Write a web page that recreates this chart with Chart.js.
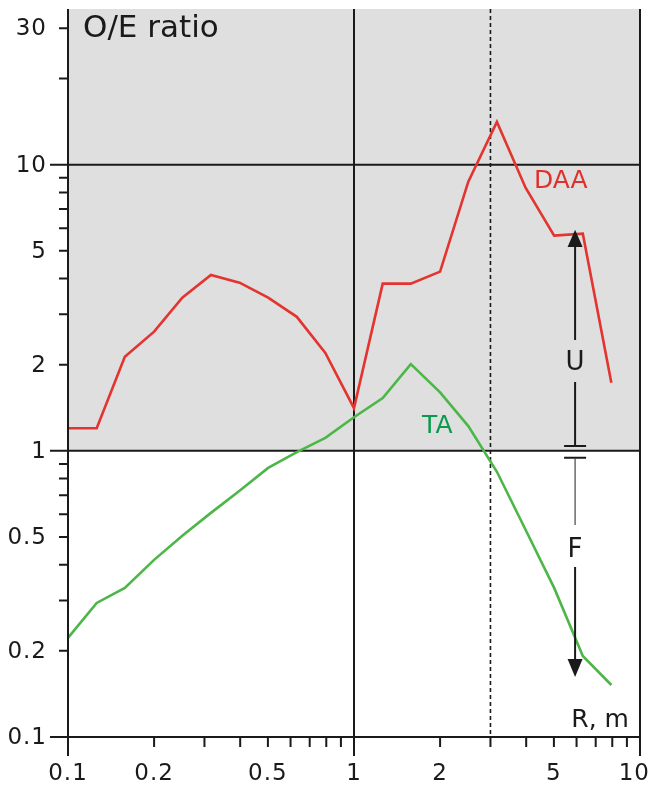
<!DOCTYPE html>
<html>
<head>
<meta charset="utf-8">
<script src="https://cdn.jsdelivr.net/npm/chart.js@4/dist/chart.umd.min.js"></script>
<style>
  html, body { margin: 0; padding: 0; background: #fff; }
  canvas { display: block; }
</style>
</head>
<body>
<canvas id="chart" width="652" height="787"></canvas>
<script>
// Distance R (m), log-spaced bins
const distances = [0.1, 0.126, 0.158, 0.2, 0.251, 0.316, 0.398, 0.501, 0.631, 0.794,
                   1, 1.26, 1.58, 2, 2.51, 3.16, 3.98, 5.01, 6.31, 7.94];
// Observed / expected ratios
const daaRatio = [1.20, 1.20, 2.13, 2.61, 3.43, 4.12, 3.87, 3.43, 2.94, 2.20,
                  1.41, 3.84, 3.84, 4.23, 8.72, 14.1, 8.31, 5.65, 5.74, 1.73];
const taRatio  = [0.222, 0.294, 0.332, 0.416, 0.505, 0.607, 0.725, 0.872, 0.99, 1.11,
                  1.31, 1.53, 2.01, 1.60, 1.22, 0.845, 0.530, 0.332, 0.192, 0.152];

// Axis ticks
const xLabelTicks = [0.1, 0.2, 0.5, 1, 2, 5, 10];
const xMinorTicks = [0.2, 0.3, 0.4, 0.5, 0.6, 0.7, 0.8, 0.9, 2, 3, 4, 5, 6, 7, 8, 9];
const yLabelTicks = [0.1, 0.2, 0.5, 1, 2, 5, 10, 30];
const yMinorTicks = [0.2, 0.3, 0.4, 0.5, 0.6, 0.7, 0.8, 0.9, 2, 3, 4, 5, 6, 7, 8, 9, 20, 30];
const decadeTicks = [0.1, 1, 10];

const FONT = '"DejaVu Sans", Verdana, sans-serif';
const INK = '#1a1a1a';
const RED = '#e3342f';
const GREEN = '#4cb748';

const decor = {
  id: 'decor',
  beforeDatasetsDraw(chart) {
    const { ctx, chartArea: a, scales: { x, y } } = chart;
    ctx.save();
    // shaded region where ratio > 1
    const y1 = y.getPixelForValue(1);
    ctx.fillStyle = '#dfdfdf';
    ctx.fillRect(a.left, a.top, a.right - a.left, y1 - a.top);

    ctx.strokeStyle = INK;
    ctx.lineWidth = 2;
    // reference lines
    ctx.beginPath();
    ctx.moveTo(a.left, y1); ctx.lineTo(a.right, y1);
    const y10 = y.getPixelForValue(10);
    ctx.moveTo(a.left, y10); ctx.lineTo(a.right, y10);
    const x1 = x.getPixelForValue(1);
    ctx.moveTo(x1, a.top); ctx.lineTo(x1, a.bottom);
    ctx.stroke();

    ctx.setLineDash([4, 3]);
    ctx.lineWidth = 1.6;
    const x3 = x.getPixelForValue(3);
    ctx.beginPath();
    ctx.moveTo(x3, a.top); ctx.lineTo(x3, a.bottom);
    ctx.stroke();
    ctx.restore();
  },
  afterDatasetsDraw(chart) {
    const { ctx, chartArea: a, scales: { x, y } } = chart;
    const W = chart.width;
    ctx.save();
    ctx.strokeStyle = INK;
    ctx.fillStyle = INK;
    ctx.lineWidth = 2;

    // frame: left, bottom, right
    ctx.beginPath();
    ctx.moveTo(a.left, a.top); ctx.lineTo(a.left, a.bottom);
    ctx.lineTo(a.right, a.bottom); ctx.lineTo(a.right, a.top);
    ctx.stroke();

    // y ticks
    ctx.beginPath();
    yMinorTicks.forEach(v => {
      const p = y.getPixelForValue(v);
      ctx.moveTo(a.left - 9, p); ctx.lineTo(a.left, p);
    });
    decadeTicks.forEach(v => {
      const p = y.getPixelForValue(v);
      ctx.moveTo(a.left - 18, p); ctx.lineTo(a.left, p);
    });
    // x ticks
    xMinorTicks.forEach(v => {
      const p = x.getPixelForValue(v);
      ctx.moveTo(p, a.bottom); ctx.lineTo(p, a.bottom + 10);
    });
    decadeTicks.forEach(v => {
      const p = x.getPixelForValue(v);
      ctx.moveTo(p, a.bottom); ctx.lineTo(p, a.bottom + 19);
    });
    ctx.stroke();

    // tick labels
    ctx.font = '23px ' + FONT;
    ctx.letterSpacing = '1px';
    ctx.textBaseline = 'middle';
    ctx.textAlign = 'right';
    yLabelTicks.forEach(v => {
      ctx.fillText(String(v), a.left - 21, y.getPixelForValue(v) + 1);
    });
    ctx.textAlign = 'center';
    xLabelTicks.forEach(v => {
      const t = String(v);
      const w = ctx.measureText(t).width;
      const px = Math.min(x.getPixelForValue(v), W - w / 2 - 2);
      ctx.fillText(t, px, a.bottom + 37);
    });
    ctx.letterSpacing = '0px';

    // titles and series labels
    ctx.textAlign = 'left';
    ctx.font = '31px ' + FONT;
    ctx.fillText('O/E ratio', a.left + 15, y.getPixelForValue(30.4) + 2);
    ctx.font = '25px ' + FONT;
    ctx.fillText('R, m', x.getPixelForValue(5.75), y.getPixelForValue(0.115) + 1);
    ctx.fillStyle = '#e0302c';
    ctx.fillText('DAA', x.getPixelForValue(4.26), y.getPixelForValue(8.86) + 2);
    ctx.fillStyle = '#0a9a4e';
    ctx.fillText('TA', x.getPixelForValue(1.73), y.getPixelForValue(1.233) + 2);

    // U / F arrows
    const ax = x.getPixelForValue(5.93);
    ctx.fillStyle = INK;
    ctx.strokeStyle = INK;
    ctx.font = '26px ' + FONT;
    ctx.textAlign = 'center';
    ctx.fillText('U', ax, y.getPixelForValue(2.05) + 2);
    ctx.fillText('F', ax, y.getPixelForValue(0.458) + 2);

    ctx.lineWidth = 2;
    ctx.beginPath();
    ctx.moveTo(ax, y.getPixelForValue(5.2)); ctx.lineTo(ax, y.getPixelForValue(2.44));
    ctx.moveTo(ax, y.getPixelForValue(1.74)); ctx.lineTo(ax, y.getPixelForValue(1.04));
    ctx.moveTo(ax - 11, y.getPixelForValue(1.04)); ctx.lineTo(ax + 11, y.getPixelForValue(1.04));
    ctx.moveTo(ax - 11, y.getPixelForValue(0.945)); ctx.lineTo(ax + 11, y.getPixelForValue(0.945));
    ctx.moveTo(ax, y.getPixelForValue(0.393)); ctx.lineTo(ax, y.getPixelForValue(0.186));
    ctx.stroke();
    ctx.lineWidth = 1.2;
    ctx.strokeStyle = '#444';
    ctx.beginPath();
    ctx.moveTo(ax, y.getPixelForValue(0.945)); ctx.lineTo(ax, y.getPixelForValue(0.551));
    ctx.stroke();

    // arrow heads
    const upTip = y.getPixelForValue(5.93), upBase = y.getPixelForValue(5.2);
    ctx.beginPath();
    ctx.moveTo(ax, upTip); ctx.lineTo(ax + 7.5, upBase + 1); ctx.lineTo(ax - 7.5, upBase + 1);
    ctx.closePath(); ctx.fill();
    const dnTip = y.getPixelForValue(0.162), dnBase = y.getPixelForValue(0.186);
    ctx.beginPath();
    ctx.moveTo(ax, dnTip); ctx.lineTo(ax + 7.5, dnBase - 1); ctx.lineTo(ax - 7.5, dnBase - 1);
    ctx.closePath(); ctx.fill();

    ctx.restore();
  }
};

new Chart(document.getElementById('chart'), {
  type: 'line',
  data: {
    datasets: [
      {
        label: 'DAA',
        data: distances.map((r, i) => ({ x: r, y: daaRatio[i] })),
        borderColor: RED, borderWidth: 2.6, pointRadius: 0, fill: false, tension: 0
      },
      {
        label: 'TA',
        data: distances.map((r, i) => ({ x: r, y: taRatio[i] })),
        borderColor: GREEN, borderWidth: 2.6, pointRadius: 0, fill: false, tension: 0
      }
    ]
  },
  options: {
    responsive: false,
    animation: false,
    layout: { padding: { left: 68, right: 12, top: 9, bottom: 50 } },
    plugins: { legend: { display: false }, tooltip: { enabled: false } },
    scales: {
      x: { type: 'logarithmic', min: 0.1, max: 10, display: false },
      y: { type: 'logarithmic', min: 0.1, max: 35, display: false }
    }
  },
  plugins: [decor]
});
</script>
</body>
</html>
